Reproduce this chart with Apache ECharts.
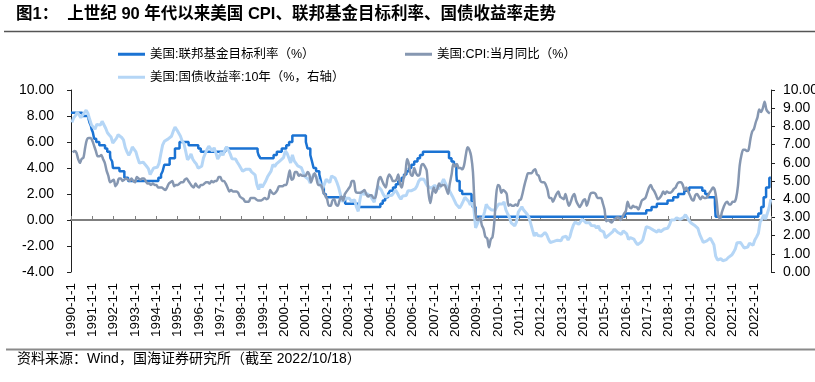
<!DOCTYPE html>
<html>
<head>
<meta charset="utf-8">
<script src="https://cdn.jsdelivr.net/npm/echarts@6/dist/echarts.min.js"></script>
<style>
html,body{margin:0;padding:0;background:#fff;}
#chart{width:815px;height:382px;}
</style>
</head>
<body>
<div id="chart"></div>
<script>
// ---------------- DATA ----------------
const seriesNames = ['美国:联邦基金目标利率（%）', '美国:CPI:当月同比（%）', '美国:国债收益率:10年（%，右轴）'];
const xStartYear = 1990;
const xEndYear = 2022.8;

// Fed funds target rate (upper bound): change dates and new levels
const fedDates = [
  '1990-01-01','1990-07-13','1990-10-29','1990-11-13','1990-12-07','1990-12-18',
  '1991-01-09','1991-02-01','1991-03-08','1991-04-30','1991-08-06','1991-09-13','1991-10-31','1991-11-06','1991-12-06','1991-12-20',
  '1992-04-09','1992-07-02','1992-09-04',
  '1994-02-04','1994-03-22','1994-04-18','1994-05-17','1994-08-16','1994-11-15',
  '1995-02-01','1995-07-06','1995-12-19','1996-01-31','1997-03-25',
  '1998-09-29','1998-10-15','1998-11-17','1999-06-30','1999-08-24','1999-11-16',
  '2000-02-02','2000-03-21','2000-05-16',
  '2001-01-03','2001-01-31','2001-03-20','2001-04-18','2001-05-15','2001-06-27','2001-08-21','2001-09-17','2001-10-02','2001-11-06','2001-12-11',
  '2002-11-06','2003-06-25',
  '2004-06-30','2004-08-10','2004-09-21','2004-11-10','2004-12-14',
  '2005-02-02','2005-03-22','2005-05-03','2005-06-30','2005-08-09','2005-09-20','2005-11-01','2005-12-13',
  '2006-01-31','2006-03-28','2006-05-10','2006-06-29',
  '2007-09-18','2007-10-31','2007-12-11',
  '2008-01-22','2008-01-30','2008-03-18','2008-04-30','2008-10-08','2008-10-29','2008-12-16',
  '2015-12-17','2016-12-15','2017-03-16','2017-06-15','2017-12-14',
  '2018-03-22','2018-06-14','2018-09-27','2018-12-20',
  '2019-08-01','2019-09-19','2019-10-31','2020-03-04','2020-03-16',
  '2022-03-17','2022-05-05','2022-06-16','2022-07-28','2022-09-22','2022-10-18'
];
const fedRates = [
  8.25,8.00,7.75,7.50,7.25,7.00,
  6.75,6.25,6.00,5.75,5.50,5.25,5.00,4.75,4.50,4.00,
  3.75,3.25,3.00,
  3.25,3.50,3.75,4.25,4.75,5.50,
  6.00,5.75,5.50,5.25,5.50,
  5.25,5.00,4.75,5.00,5.25,5.50,
  5.75,6.00,6.50,
  6.00,5.50,5.00,4.50,4.00,3.75,3.50,3.00,2.50,2.00,1.75,
  1.25,1.00,
  1.25,1.50,1.75,2.00,2.25,
  2.50,2.75,3.00,3.25,3.50,3.75,4.00,4.25,
  4.50,4.75,5.00,5.25,
  4.75,4.50,4.25,
  3.50,3.00,2.25,2.00,1.50,1.00,0.25,
  0.50,0.75,1.00,1.25,1.50,
  1.75,2.00,2.25,2.50,
  2.25,2.00,1.75,1.25,0.25,
  0.50,1.00,1.75,2.50,3.25,3.25
];

// US CPI YoY, monthly from 1990-01 to 2022-09
const cpiStart = '1990-01';
const cpiValues = [
  5.2,5.3,5.2,4.7,4.4,4.7,4.8,5.6,6.2,6.3,6.3,6.1,
  5.7,5.3,4.9,4.9,5.0,4.7,4.4,3.8,3.4,2.9,3.0,3.1,
  2.6,2.8,3.2,3.2,3.0,3.1,3.2,3.1,3.0,3.2,3.0,2.9,
  3.3,3.2,3.1,3.2,3.2,3.0,2.8,2.8,2.7,2.8,2.7,2.7,
  2.5,2.5,2.5,2.4,2.3,2.5,2.8,2.9,3.0,2.6,2.7,2.7,
  2.8,2.9,2.9,3.1,3.2,3.0,2.8,2.6,2.5,2.8,2.6,2.5,
  2.7,2.7,2.8,2.9,2.9,2.8,3.0,2.9,3.0,3.0,3.3,3.3,
  3.0,3.0,2.8,2.5,2.2,2.3,2.2,2.2,2.2,2.1,1.8,1.7,
  1.6,1.4,1.4,1.4,1.7,1.7,1.7,1.6,1.5,1.5,1.5,1.6,
  1.7,1.6,1.7,2.3,2.1,2.0,2.1,2.3,2.6,2.6,2.6,2.7,
  2.7,3.2,3.8,3.1,3.2,3.7,3.7,3.4,3.5,3.4,3.4,3.4,
  3.7,3.5,2.9,3.3,3.6,3.2,2.7,2.7,2.6,2.1,1.9,1.6,
  1.1,1.1,1.5,1.6,1.2,1.1,1.5,1.8,1.5,2.0,2.2,2.4,
  2.6,3.0,3.0,2.2,2.1,2.1,2.1,2.2,2.3,2.0,1.8,1.9,
  1.9,1.7,1.7,2.3,3.1,3.3,3.0,2.7,2.5,3.2,3.5,3.3,
  3.0,3.0,3.1,3.5,2.8,2.5,3.2,3.6,4.7,4.3,3.5,3.4,
  4.0,3.6,3.4,3.5,4.2,4.3,4.1,3.8,2.1,1.3,2.0,2.5,
  2.1,2.4,2.8,2.6,2.7,2.7,2.4,2.0,2.8,3.5,4.3,4.1,
  4.3,4.0,4.0,3.9,4.2,5.0,5.6,5.4,4.9,3.7,1.1,0.1,
  0.0,0.2,-0.4,-0.7,-1.3,-1.4,-2.1,-1.5,-1.3,-0.2,1.8,2.7,
  2.6,2.1,2.3,2.2,2.0,1.1,1.2,1.1,1.1,1.2,1.1,1.5,
  1.6,2.1,2.7,3.2,3.6,3.6,3.6,3.8,3.9,3.5,3.4,3.0,
  2.9,2.9,2.7,2.3,1.7,1.7,1.4,1.7,2.0,2.2,1.8,1.7,
  1.6,2.0,1.5,1.1,1.4,1.8,2.0,1.5,1.2,1.0,1.2,1.5,
  1.6,1.1,1.5,2.0,2.1,2.1,2.0,1.7,1.7,1.7,1.3,0.8,
  -0.1,0.0,-0.1,-0.2,0.0,0.1,0.2,0.2,0.0,0.2,0.5,0.7,
  1.4,1.0,0.9,1.1,1.0,1.0,0.8,1.1,1.5,1.6,1.7,2.1,
  2.5,2.7,2.4,2.2,1.9,1.6,1.7,1.9,2.2,2.0,2.2,2.1,
  2.1,2.2,2.4,2.5,2.8,2.9,2.9,2.7,2.3,2.5,2.2,1.9,
  1.6,1.5,1.9,2.0,1.8,1.6,1.8,1.7,1.7,1.8,2.1,2.3,
  2.5,2.3,1.5,0.3,0.1,0.6,1.0,1.3,1.4,1.2,1.2,1.4,
  1.4,1.7,2.6,4.2,5.0,5.4,5.4,5.3,5.4,6.2,6.8,7.0,
  7.5,7.9,8.5,8.3,8.6,9.1,8.5,8.3,8.2
];

// US 10Y Treasury yield, monthly from 1990-01 to 2022-10
const yieldStart = '1990-01';
const yieldValues = [
  8.21,8.47,8.59,8.79,8.76,8.48,8.47,8.75,8.89,8.72,8.39,8.08,
  8.09,7.85,8.11,8.04,8.07,8.28,8.27,7.90,7.65,7.53,7.42,7.09,
  7.03,7.34,7.54,7.48,7.39,7.26,6.84,6.59,6.42,6.59,6.87,6.77,
  6.60,6.26,5.98,5.97,6.04,5.96,5.81,5.68,5.36,5.33,5.72,5.77,
  5.75,5.97,6.48,6.97,7.18,7.10,7.30,7.24,7.46,7.74,7.96,7.81,
  7.78,7.47,7.20,7.06,6.63,6.17,6.28,6.49,6.20,6.04,5.93,5.71,
  5.65,5.81,6.27,6.51,6.74,6.91,6.87,6.64,6.83,6.53,6.20,6.30,
  6.58,6.42,6.69,6.89,6.71,6.49,6.22,6.30,6.21,6.03,5.88,5.81,
  5.54,5.57,5.65,5.64,5.65,5.50,5.46,5.34,4.81,4.53,4.83,4.65,
  4.72,5.00,5.23,5.18,5.54,5.90,5.79,5.94,5.92,6.11,6.03,6.28,
  6.66,6.52,6.26,5.99,6.44,6.10,6.05,5.83,5.80,5.74,5.72,5.24,
  5.16,5.10,4.89,5.14,5.39,5.28,5.24,4.97,4.73,4.57,4.65,5.09,
  5.04,4.91,5.28,5.21,5.16,4.93,4.65,4.26,3.87,3.94,4.05,4.03,
  4.05,3.90,3.81,3.96,3.57,3.33,3.98,4.45,4.27,4.29,4.30,4.27,
  4.15,4.08,3.83,4.35,4.72,4.73,4.50,4.28,4.13,4.10,4.19,4.23,
  4.22,4.17,4.50,4.34,4.14,4.00,4.18,4.26,4.20,4.46,4.54,4.47,
  4.42,4.57,4.72,4.99,5.11,5.11,5.09,4.88,4.72,4.73,4.60,4.56,
  4.76,4.72,4.56,4.69,4.75,5.10,5.00,4.67,4.52,4.53,4.15,4.10,
  3.74,3.74,3.51,3.68,3.88,4.10,4.01,3.89,3.69,3.81,3.53,2.42,
  2.52,2.87,2.82,2.93,3.29,3.72,3.56,3.59,3.40,3.39,3.40,3.59,
  3.73,3.69,3.73,3.85,3.42,3.20,3.01,2.70,2.65,2.54,2.76,3.29,
  3.39,3.58,3.41,3.46,3.17,3.00,3.00,2.30,1.98,2.15,2.01,1.98,
  1.97,1.97,2.17,2.05,1.80,1.62,1.53,1.68,1.72,1.75,1.65,1.72,
  1.91,1.98,1.96,1.76,1.93,2.30,2.58,2.74,2.81,2.62,2.72,2.90,
  2.86,2.71,2.72,2.71,2.56,2.60,2.54,2.42,2.53,2.30,2.33,2.21,
  1.88,1.98,2.04,1.94,2.20,2.36,2.32,2.17,2.17,2.07,2.26,2.24,
  2.09,1.78,1.89,1.81,1.81,1.64,1.50,1.56,1.63,1.76,2.14,2.49,
  2.43,2.42,2.48,2.30,2.30,2.19,2.32,2.21,2.20,2.36,2.35,2.40,
  2.58,2.86,2.84,2.87,2.98,2.91,2.89,2.89,3.00,3.15,3.12,2.83,
  2.71,2.68,2.57,2.53,2.40,2.07,2.06,1.63,1.70,1.71,1.81,1.86,
  1.76,1.50,0.87,0.66,0.67,0.73,0.62,0.65,0.68,0.79,0.87,0.93,
  1.08,1.26,1.61,1.64,1.62,1.52,1.32,1.28,1.37,1.58,1.56,1.47,
  1.76,1.93,2.13,2.75,2.90,3.14,2.90,2.90,3.52,4.00
];

// ---------------- HELPERS ----------------
function dateToYear(s) {
  const p = s.split('-').map(Number);
  const t = Date.UTC(p[0], p[1] - 1, p[2]);
  const t0 = Date.UTC(p[0], 0, 1), t1 = Date.UTC(p[0] + 1, 0, 1);
  return p[0] + (t - t0) / (t1 - t0);
}
function monthlyPoints(start, values, offset) {
  const p = start.split('-').map(Number);
  return values.map((v, i) => {
    const mi = (p[1] - 1) + i;
    return [p[0] + (mi + offset) / 12, v];
  });
}
const fedData = fedDates.map((d, i) => [dateToYear(d), fedRates[i]]);
const cpiData = monthlyPoints(cpiStart, cpiValues, 1);
const yieldData = monthlyPoints(yieldStart, yieldValues, 0.5);

// ---------------- CHART ----------------
const FONT = "'Liberation Sans', Arial, 'Noto Sans CJK SC', sans-serif";
const chart = echarts.init(document.getElementById('chart'), null, {renderer: 'canvas'});
const C_FED = '#1b73d3', C_CPI = '#8697b1', C_YLD = '#b5d6f6';

const xBase = {
  type: 'value', min: xStartYear, max: xEndYear, interval: 1, gridIndex: 0,
  splitLine: {show: false}
};
const legendCommon = {
  icon: 'rect', itemWidth: 27, itemHeight: 3, padding: 0,
  textStyle: {fontSize: 12.5, color: '#000', fontFamily: FONT}
};

chart.setOption({
  animation: false,
  backgroundColor: '#fff',
  textStyle: {fontFamily: FONT},
  title: {
    text: '图1：  上世纪 90 年代以来美国 CPI、联邦基金目标利率、国债收益率走势',
    left: 16, top: 6, padding: 0,
    textStyle: {fontSize: 16.5, fontWeight: 'bold', color: '#000', fontFamily: FONT}
  },
  legend: [
    Object.assign({data: [seriesNames[0]], left: 118, top: 48}, legendCommon),
    Object.assign({data: [seriesNames[1]], left: 405, top: 48}, legendCommon),
    Object.assign({data: [seriesNames[2]], left: 118, top: 71}, legendCommon)
  ],
  grid: {left: 71, right: 44, top: 90, bottom: 110, containLabel: false, outerBoundsMode: 'none'},
  xAxis: [
    Object.assign({}, xBase, {
      position: 'bottom',
      axisLine: {show: false, onZero: false},
      axisTick: {show: false},
      axisLabel: {
        rotate: 90, margin: 11, fontSize: 13.5, color: '#000', fontFamily: FONT,
        showMaxLabel: false,
        formatter: v => (Math.abs(v - Math.round(v)) < 1e-6 ? Math.round(v) + '-1-1' : '')
      }
    }),
    Object.assign({}, xBase, {
      position: 'bottom',
      axisLine: {show: true, onZero: true, onZeroAxisIndex: 0, lineStyle: {color: '#7f7f7f', width: 2}},
      axisTick: {show: true, inside: true, length: 4, lineStyle: {color: '#7f7f7f', width: 1}},
      axisLabel: {show: false}
    })
  ],
  yAxis: [
    {
      type: 'value', position: 'left', min: -4, max: 10, interval: 2,
      axisLine: {show: true, lineStyle: {color: '#222', width: 1}},
      axisTick: {show: true, length: 4, lineStyle: {color: '#222'}},
      splitLine: {show: false},
      axisLabel: {margin: 17, fontSize: 14, color: '#000', fontFamily: FONT, formatter: v => v.toFixed(2)}
    },
    {
      type: 'value', position: 'right', min: 0, max: 10, interval: 1,
      axisLine: {show: true, lineStyle: {color: '#222', width: 1}},
      axisTick: {show: true, length: 4, lineStyle: {color: '#222'}},
      splitLine: {show: false},
      axisLabel: {margin: 12, fontSize: 14, color: '#000', fontFamily: FONT, formatter: v => v.toFixed(2)}
    }
  ],
  series: [
    {
      name: seriesNames[0], type: 'line', xAxisIndex: 0, yAxisIndex: 0,
      step: 'end', data: fedData, showSymbol: false, symbol: 'none',
      color: C_FED, lineStyle: {color: C_FED, width: 2.5}
    },
    {
      name: seriesNames[2], type: 'line', xAxisIndex: 0, yAxisIndex: 1,
      data: yieldData, showSymbol: false, symbol: 'none',
      color: C_YLD, lineStyle: {color: C_YLD, width: 3}
    },
    {
      name: seriesNames[1], type: 'line', xAxisIndex: 0, yAxisIndex: 0,
      data: cpiData, showSymbol: false, symbol: 'none', smooth: 0.3,
      color: C_CPI, lineStyle: {color: C_CPI, width: 2.5}
    }
  ],
  graphic: [
    {type: 'line', shape: {x1: 4, y1: 31.5, x2: 815, y2: 31.5}, style: {stroke: '#555', lineWidth: 1.5}},
    {type: 'line', shape: {x1: 6, y1: 349.5, x2: 815, y2: 349.5}, style: {stroke: '#8a8a8a', lineWidth: 2}},
    {type: 'text', left: 17, top: 352, style: {
      text: '资料来源：Wind，国海证券研究所（截至 2022/10/18）',
      fontSize: 14, fill: '#000', fontFamily: FONT
    }}
  ]
});
</script>
</body>
</html>
